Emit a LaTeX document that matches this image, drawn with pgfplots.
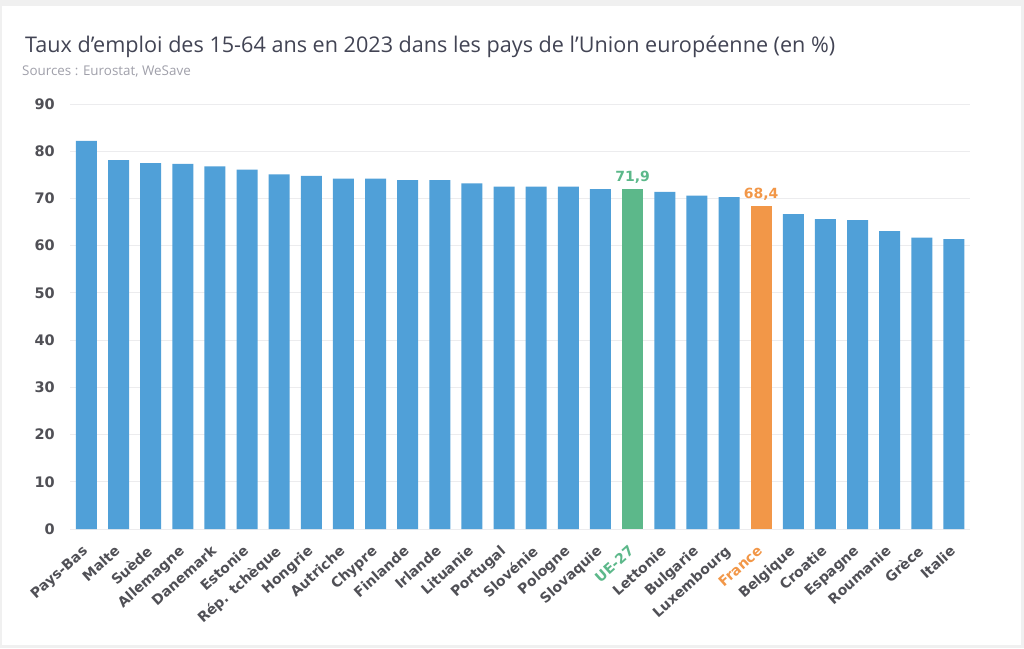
\documentclass[border=0pt]{standalone}
\usepackage{pgfplots}
\pgfplotsset{compat=1.18}
\usepackage{fontspec}
\setmainfont{Open Sans}
\newfontfamily\lab{DejaVu Sans}
\definecolor{barblue}{RGB}{80,160,216}
\definecolor{uegreen}{RGB}{92,184,138}
\definecolor{frorange}{RGB}{242,151,72}
\definecolor{titlecol}{RGB}{66,68,84}
\definecolor{srccol}{RGB}{160,160,170}
\definecolor{labcol}{RGB}{80,80,86}
\definecolor{gridcol}{RGB}{236,236,238}
\definecolor{framecol}{RGB}{240,240,240}
\pgfplotstableread{
x y
0 82.2
1 78.1
2 77.5
3 77.3
4 76.8
5 76.1
6 75.1
7 74.8
8 74.2
9 74.2
10 73.9
11 73.9
12 73.2
13 72.5
14 72.5
15 72.5
16 72.0
18 71.4
19 70.6
20 70.3
22 66.7
23 65.6
24 65.4
25 63.1
26 61.7
27 61.4
}\maindata
\begin{document}
\begin{tikzpicture}[x=1pt,y=1pt]
\fill[framecol] (0,0) rectangle (1024,648);
\fill[white] (2,3) rectangle (1021,642);
\node[anchor=base west, inner sep=0pt, font=\fontsize{21.6}{26}\selectfont, text=titlecol] at (25,595) {Taux d’emploi des 15-64 ans en 2023 dans les pays de l’Union européenne (en \%)};
\node[anchor=base west, inner sep=0pt, font=\fontsize{13.4}{16}\selectfont, text=srccol] at (22,572) {Sources : Eurostat, WeSave};
\begin{axis}[
  at={(70pt,119pt)}, anchor=south west,
  scale only axis, width=900pt, height=425pt,
  xmin=-0.51, xmax=27.5, ymin=0, ymax=90,
  ytick={0,10,...,90},
  xtick={0,...,27},
  xticklabels={Pays-Bas,Malte,Suède,Allemagne,Danemark,Estonie,Rép. tchèque,Hongrie,Autriche,Chypre,Finlande,Irlande,Lituanie,Portugal,Slovénie,Pologne,Slovaquie,\textcolor{uegreen}{UE-27},Lettonie,Bulgarie,Luxembourg,\textcolor{frorange}{France},Belgique,Croatie,Espagne,Roumanie,Grèce,Italie},
  axis line style={draw=none},
  tick style={draw=none},
  ymajorgrids, grid style={gridcol, line width=1pt},
  yticklabel style={font=\lab\fontsize{14.5}{16}\selectfont\bfseries, text=labcol, inner sep=0pt, xshift=-15pt, /pgf/number format/assume math mode=true},
  xticklabel style={font=\lab\fontsize{14}{16}\selectfont\bfseries, text=labcol, rotate=42, anchor=north east, inner sep=0pt, yshift=-5pt, xshift=-11pt},
  ybar, bar width=21pt, bar shift=0pt,
]
\addplot[fill=barblue, draw=none] table[x=x,y=y] {\maindata};
\addplot[fill=uegreen, draw=none, nodes near coords, nodes near coords style={font=\lab\fontsize{14}{16}\selectfont\bfseries, text=uegreen, /pgf/number format/assume math mode=true, /pgf/number format/use comma, /pgf/number format/fixed, /pgf/number format/precision=1, /pgf/number format/fixed zerofill, yshift=2pt}] coordinates {(17,71.9)};
\addplot[fill=frorange, draw=none, nodes near coords, nodes near coords style={font=\lab\fontsize{14}{16}\selectfont\bfseries, text=frorange, /pgf/number format/assume math mode=true, /pgf/number format/use comma, /pgf/number format/fixed, /pgf/number format/precision=1, /pgf/number format/fixed zerofill, yshift=2pt}] coordinates {(21,68.4)};
\end{axis}
\end{tikzpicture}
\end{document}
